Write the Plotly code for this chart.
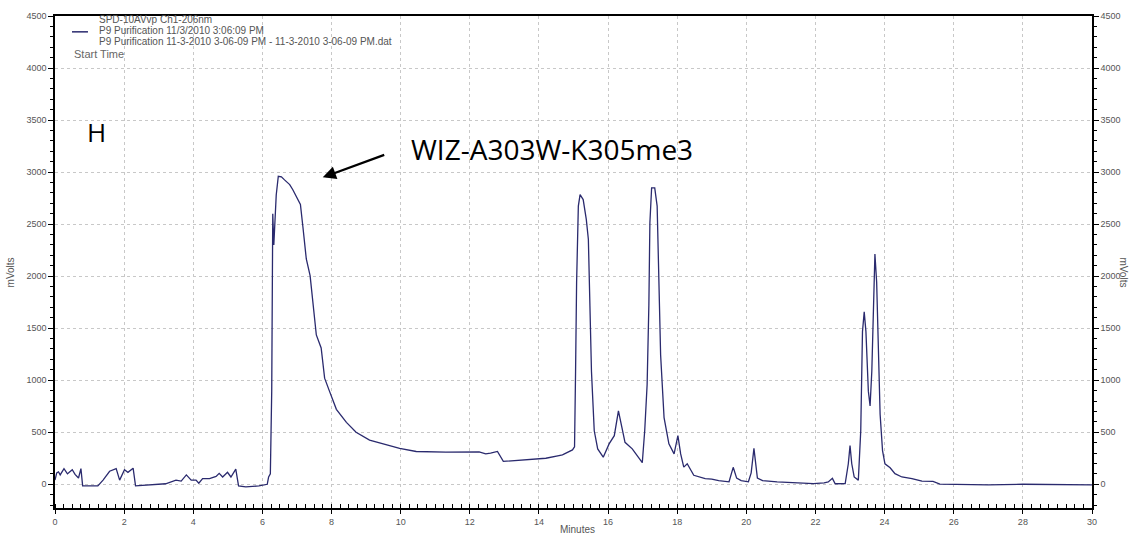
import plotly.graph_objects as go

# Retention time (minutes) and detector signal (mVolts)
minutes = [0.00, 0.05, 0.10, 0.15, 0.26, 0.36, 0.43, 0.50, 0.58, 0.68, 0.75, 0.80,
           1.24, 1.39, 1.58, 1.70, 1.77, 1.87, 2.01, 2.11, 2.26, 2.33, 2.64, 3.20,
           3.50, 3.65, 3.80, 3.94, 4.08, 4.16, 4.27, 4.47, 4.66, 4.75, 4.85, 4.99,
           5.09, 5.23, 5.31, 5.52, 5.90, 6.14, 6.18, 6.23, 6.24, 6.27, 6.29, 6.30,
           6.33, 6.35, 6.37, 6.40, 6.46, 6.55, 6.64, 6.79, 6.88, 6.98, 7.10, 7.17,
           7.27, 7.38, 7.46, 7.56, 7.70, 7.80, 7.94, 8.14, 8.43, 8.71, 9.10, 9.48,
           9.97, 10.45, 11.31, 12.27, 12.46, 12.60, 12.80, 12.97, 13.72, 14.20, 14.58, 14.68,
           14.97, 15.03, 15.06, 15.09, 15.14, 15.19, 15.28, 15.37, 15.43, 15.47, 15.52, 15.60,
           15.70, 15.86, 16.03, 16.18, 16.30, 16.40, 16.49, 16.70, 16.99, 17.06, 17.13, 17.18,
           17.21, 17.26, 17.35, 17.42, 17.47, 17.52, 17.62, 17.76, 17.91, 18.02, 18.10, 18.19,
           18.29, 18.48, 18.81, 19.00, 19.20, 19.50, 19.62, 19.72, 19.85, 20.06, 20.14, 20.22,
           20.32, 20.47, 20.89, 21.94, 22.25, 22.37, 22.49, 22.57, 22.86, 22.95, 23.00, 23.05,
           23.12, 23.24, 23.31, 23.36, 23.41, 23.46, 23.53, 23.58, 23.63, 23.68, 23.72, 23.77,
           23.82, 23.87, 23.94, 24.01, 24.16, 24.30, 24.50, 24.79, 25.08, 25.27, 25.40, 25.60,
           26.00, 27.00, 28.00, 29.00, 30.00]
mvolts = [40, 110, 120, 90, 150, 100, 120, 140, 95, 60, 150, -15,
          -15, 40, 125, 145, 150, 40, 140, 115, 155, -15, -10, 5,
          40, 30, 90, 40, 40, 10, 55, 55, 75, 105, 70, 115,
          70, 145, -15, -25, -15, 0, 70, 100, 300, 900, 2050, 2600,
          2300, 2450, 2650, 2780, 2960, 2955, 2925, 2880, 2830, 2770, 2690, 2480,
          2165, 2005, 1750, 1435, 1310, 1020, 895, 720, 595, 500, 425, 392,
          345, 315, 308, 312, 292, 300, 315, 220, 235, 250, 276, 283,
          330, 360, 1085, 1943, 2673, 2784, 2736, 2546, 2355, 1720, 1085, 514,
          340, 260, 388, 467, 705, 546, 403, 340, 207, 514, 959, 1720,
          2514, 2848, 2848, 2673, 1879, 1245, 641, 388, 292, 467, 292, 165,
          197, 86, 54, 49, 35, 24, 163, 59, 35, 24, 110, 345,
          59, 35, 24, 7, 14, 22, 57, 5, 7, 197, 371, 197,
          70, 40, 514, 1467, 1657, 1467, 895, 752, 1086, 1784, 2212, 1943,
          1150, 673, 324, 197, 159, 102, 70, 55, 30, 25, 28, 2,
          0, -5, 0, -5, -5]

x_ticks = [0, 2, 4, 6, 8, 10, 12, 14, 16, 18, 20, 22, 24, 26, 28, 30]
y_ticks = [0, 500, 1000, 1500, 2000, 2500, 3000, 3500, 4000, 4500]

legend_lines = ["SPD-10AVvp Ch1-206nm",
                "P9 Purification 11/3/2010 3:06:09 PM",
                "P9 Purification 11-3-2010 3-06-09 PM - 11-3-2010 3-06-09 PM.dat"]

W, H = 1132, 538
L, R, T, B = 55, 39, 11, 30
PW, PH = W - L - R, H - T - B

def px(xp):
    return (xp - L) / PW

def py(yp):
    return (H - B - yp) / PH

LINE_COLOR = "#2a2a6e"

fig = go.Figure()
fig.add_trace(go.Scatter(x=minutes, y=mvolts, mode="lines",
                         line=dict(color=LINE_COLOR, width=1.3),
                         hoverinfo="skip", showlegend=False))

tickfont = dict(family="Liberation Sans, Arial, sans-serif", size=9, color="#555555")
grid = dict(showgrid=True, gridcolor="#c8c8c8", griddash="3px,3px", gridwidth=1)

fig.update_layout(
    width=W, height=H,
    margin=dict(l=L, r=R, t=T, b=B),
    paper_bgcolor="white", plot_bgcolor="white",
    showlegend=False,
    xaxis=dict(range=[0, 30], tickvals=x_ticks, ticktext=[str(v) for v in x_ticks],
               ticks="outside", ticklen=4, tickcolor="black",
               minor=dict(dtick=0.25, ticks="inside", ticklen=4, tickcolor="black", showgrid=False),
               showline=True, linecolor="black", linewidth=1.5, mirror=True,
               zeroline=False, tickfont=tickfont, **grid),
    yaxis=dict(range=[-228, 4500], tickvals=y_ticks, ticktext=[str(v) for v in y_ticks],
               ticks="outside", ticklen=5, tickcolor="black",
               minor=dict(dtick=100, ticks="outside", ticklen=3, tickcolor="black", showgrid=False),
               showline=True, linecolor="black", linewidth=1.5, mirror=True,
               zeroline=False, tickfont=tickfont, **grid),
    yaxis2=dict(range=[-228, 4500], overlaying="y", side="right",
                tickvals=y_ticks, ticktext=[str(v) for v in y_ticks],
                ticks="outside", ticklen=5, tickcolor="black",
                minor=dict(dtick=100, ticks="outside", ticklen=3, tickcolor="black"),
                showline=True, linecolor="black", linewidth=1.5,
                showgrid=False, zeroline=False, tickfont=tickfont),
)
# invisible trace to activate the right axis
fig.add_trace(go.Scatter(x=[minutes[0]], y=[mvolts[0]], yaxis="y2", mode="markers",
                         marker=dict(opacity=0), hoverinfo="skip", showlegend=False))

ann = []
small = dict(family="Liberation Sans, Arial, sans-serif", size=10, color="#555555")
for i, txt in enumerate(legend_lines):
    ann.append(dict(xref="paper", yref="paper", x=px(97), y=py(15 + 11 * i),
                    text=txt, showarrow=False, xanchor="left", yanchor="middle", font=small))
ann.append(dict(xref="paper", yref="paper", x=px(72), y=py(49), text="Start Time",
                showarrow=False, xanchor="left", yanchor="middle",
                font=dict(family="Liberation Sans, Arial, sans-serif", size=11, color="#666666")))
ann.append(dict(xref="paper", yref="paper", x=px(10), y=py(270), text="mVolts", textangle=-90,
                showarrow=False, xanchor="center", yanchor="middle", font=small))
ann.append(dict(xref="paper", yref="paper", x=px(1125), y=py(270), text="mVolts", textangle=90,
                showarrow=False, xanchor="center", yanchor="middle", font=small))
ann.append(dict(xref="paper", yref="paper", x=px(578), y=py(530), text="Minutes",
                showarrow=False, xanchor="center", yanchor="middle", font=small))
ann.append(dict(xref="paper", yref="paper", x=px(97), y=py(128), text="H",
                showarrow=False, xanchor="center", yanchor="middle",
                font=dict(family="Open Sans, sans-serif", size=26, color="black")))
ann.append(dict(xref="paper", yref="paper", x=px(409), y=py(145), text="WIZ-A303W-K305me3",
                showarrow=False, xanchor="left", yanchor="middle",
                font=dict(family="Open Sans, sans-serif", size=28, color="black")))
ann.append(dict(xref="paper", yref="paper", x=px(323), y=py(174), text="",
                showarrow=True, axref="pixel", ayref="pixel", ax=63, ay=-23,
                arrowhead=2, arrowsize=1.2, arrowwidth=2.2, arrowcolor="black"))
fig.update_layout(annotations=ann)

# legend sample line next to the series name
fig.add_shape(type="line", xref="paper", yref="paper",
              x0=px(72), x1=px(88), y0=py(27), y1=py(27),
              line=dict(color=LINE_COLOR, width=1.5))

fig.write_html("out.html")
